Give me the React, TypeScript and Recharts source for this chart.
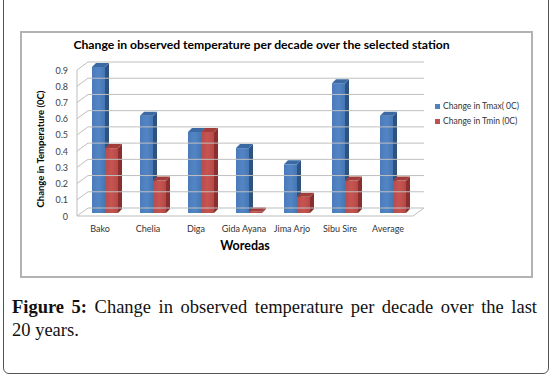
import React from 'react';
import { BarChart, Bar, XAxis, YAxis } from 'recharts';

// values
const woredas = ['Bako', 'Chelia', 'Diga', 'Gida Ayana', 'Jima Arjo', 'Sibu Sire', 'Average'];
const tmaxChange = [0.9, 0.6, 0.5, 0.4, 0.3, 0.8, 0.6];
const tminChange = [0.4, 0.2, 0.5, 0.01, 0.1, 0.2, 0.2];
const yTicks = [0, 0.1, 0.2, 0.3, 0.4, 0.5, 0.6, 0.7, 0.8, 0.9];

const data = woredas.map((name, i) => ({ name, tmax: tmaxChange[i], tmin: tminChange[i] }));

// front plane of the plot, the back wall is shifted up/right from it
const PLOT_LEFT = 77;
const PLOT_RIGHT = 413;
const WALL_DX = 11;
const WALL_DY = -8;
const GRID = '#bfbfbf';
const FONT = 'Lato, "Open Sans", sans-serif';

const makeShape = (front: string, side: string, top: string) => (props: any) => {
  const { x, y, width, height } = props;
  const bx = x + 4;
  const by = y - 3;
  const d = 4;
  return (
    <g>
      <rect x={bx} y={by} width={width} height={height} fill={front} />
      <polygon
        points={`${bx + width},${by} ${bx + width + d},${by - d} ${bx + width + d},${by + height - d} ${bx + width},${by + height}`}
        fill={side}
      />
      <polygon
        points={`${bx},${by} ${bx + d},${by - d} ${bx + width + d},${by - d} ${bx + width},${by}`}
        fill={top}
      />
    </g>
  );
};

const BlueBar = makeShape('url(#blueFront)', '#2f5380', '#3b6aa3');
const RedBar = makeShape('url(#redFront)', '#8a2f2d', '#a13d3a');

const YTick = (props: any) => {
  const { y, payload } = props;
  const isFloor = payload.value === 0;
  return (
    <g>
      <line x1={PLOT_LEFT} y1={y} x2={PLOT_LEFT + WALL_DX} y2={y + WALL_DY} stroke={GRID} />
      <line x1={PLOT_LEFT + WALL_DX} y1={y + WALL_DY} x2={PLOT_RIGHT + WALL_DX} y2={y + WALL_DY} stroke={GRID} />
      {isFloor && (
        <line x1={PLOT_RIGHT} y1={y} x2={PLOT_RIGHT + WALL_DX} y2={y + WALL_DY} stroke={GRID} />
      )}
      <text x={PLOT_LEFT - 9} y={y} textAnchor="end" dominantBaseline="central" fontSize={9} fill="#404040" fontFamily={FONT}>
        {payload.value}
      </text>
    </g>
  );
};

const XTick = (props: any) => {
  const { x, payload } = props;
  return (
    <text x={x - 1} y={228} textAnchor="middle" dominantBaseline="central" fontSize={9} fill="#333" fontFamily={FONT}>
      {payload.value}
    </text>
  );
};

export default function App() {
  return (
    <div style={{ position: 'absolute', left: 0, top: 0, width: 551, height: 379, background: '#fff', overflow: 'hidden' }}>
      <div
        style={{
          position: 'absolute', left: 3, top: -10, width: 546, height: 384,
          border: '1.5px solid #555', borderRadius: 6, boxSizing: 'border-box',
        }}
      />
      <div
        style={{
          position: 'absolute', left: 20, top: 31, width: 513, height: 247,
          border: '2px solid #b3b3b3', boxSizing: 'border-box',
        }}
      />
      <div style={{ position: 'absolute', left: 0, top: 0 }}>
        <BarChart
          width={551}
          height={379}
          data={data}
          margin={{ top: 70, right: 551 - PLOT_RIGHT, bottom: 133, left: PLOT_LEFT - 30 }}
          barSize={13}
          barGap={0}
        >
          <defs>
            <linearGradient id="blueFront" x1="0" y1="0" x2="1" y2="0">
              <stop offset="0" stopColor="#4a7aba" />
              <stop offset="0.5" stopColor="#5385c4" />
              <stop offset="1" stopColor="#4677b5" />
            </linearGradient>
            <linearGradient id="redFront" x1="0" y1="0" x2="1" y2="0">
              <stop offset="0" stopColor="#bb4b48" />
              <stop offset="0.5" stopColor="#c55552" />
              <stop offset="1" stopColor="#b84845" />
            </linearGradient>
          </defs>
          <XAxis
            dataKey="name"
            height={30}
            axisLine={{ stroke: GRID }}
            tickLine={false}
            tick={<XTick />}
            interval={0}
          />
          <YAxis
            width={30}
            domain={[0, 0.9]}
            ticks={yTicks}
            axisLine={{ stroke: GRID }}
            tickLine={false}
            tick={<YTick />}
            interval={0}
          />
          <Bar dataKey="tmax" name="Change in Tmax( 0C)" shape={BlueBar} isAnimationActive={false} />
          <Bar dataKey="tmin" name="Change in Tmin (0C)" shape={RedBar} isAnimationActive={false} />
        </BarChart>
      </div>

      {/* chart title */}
      <div
        style={{
          position: 'absolute', left: 5, width: 513, top: 37, textAlign: 'center',
          fontFamily: FONT, fontWeight: 700, fontSize: 12.2, color: '#000', whiteSpace: 'nowrap',
        }}
      >
        Change in observed temperature per decade over the selected station
      </div>

      {/* y axis title */}
      <div
        style={{
          position: 'absolute', left: 40, top: 149, transform: 'translate(-50%, -50%) rotate(-90deg)',
          fontFamily: FONT, fontWeight: 700, fontSize: 9.5, color: '#000', whiteSpace: 'nowrap',
        }}
      >
        Change in Temperature (0C)
      </div>

      {/* x axis title */}
      <div
        style={{
          position: 'absolute', left: 245, top: 245, transform: 'translate(-50%, -50%)',
          fontFamily: FONT, fontWeight: 700, fontSize: 12.5, color: '#000', whiteSpace: 'nowrap',
        }}
      >
        Woredas
      </div>

      {/* legend */}
      <div style={{ position: 'absolute', left: 435, top: 99, fontFamily: FONT, fontSize: 8.5, color: '#333', lineHeight: '15px' }}>
        <div style={{ display: 'flex', alignItems: 'center' }}>
          <span style={{ width: 5, height: 5, background: '#4f81bd', marginRight: 3, display: 'inline-block' }} />
          Change in Tmax( 0C)
        </div>
        <div style={{ display: 'flex', alignItems: 'center' }}>
          <span style={{ width: 5, height: 5, background: '#c0504d', marginRight: 3, display: 'inline-block' }} />
          Change in Tmin (0C)
        </div>
      </div>

      {/* figure caption */}
      <div
        style={{
          position: 'absolute', left: 12, top: 296, width: 525,
          fontFamily: '"Liberation Serif", "DejaVu Serif", serif', fontSize: 18.5, color: '#111', lineHeight: '23px',
        }}
      >
        <div style={{ textAlign: 'justify', textAlignLast: 'justify' }}>
          <b>Figure 5:</b> Change in observed temperature per decade over the last
        </div>
        <div>20 years.</div>
      </div>
    </div>
  );
}
